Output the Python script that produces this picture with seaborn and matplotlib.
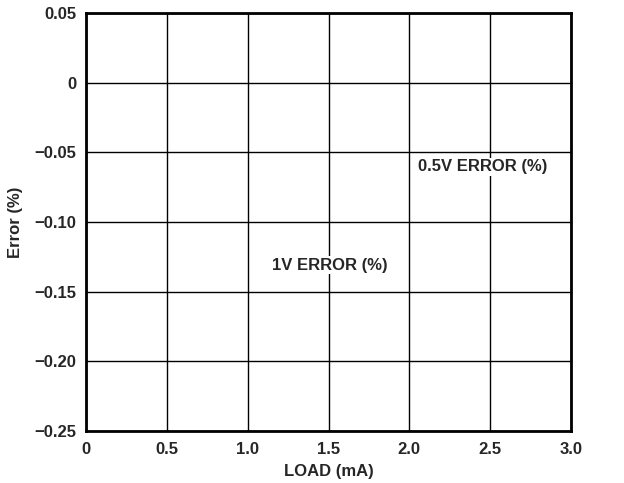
import matplotlib
matplotlib.use("Agg")
import matplotlib.pyplot as plt
import seaborn as sns

# Axis ticks
x_ticks = [0, 0.5, 1.0, 1.5, 2.0, 2.5, 3.0]
x_tick_labels = ["0", "0.5", "1.0", "1.5", "2.0", "2.5", "3.0"]
y_ticks = [0.05, 0, -0.05, -0.10, -0.15, -0.20, -0.25]
y_tick_labels = ["0.05", "0", "\u22120.05", "\u22120.10", "\u22120.15", "\u22120.20", "\u22120.25"]

# Annotations (label, x, y)
labels = ["0.5V ERROR (%)", "1V ERROR (%)"]
label_x = [2.456, 1.509]
label_y = [-0.0605, -0.131]

sns.set_style("white")
plt.rcParams["font.family"] = ["Liberation Sans", "DejaVu Sans"]

FS = 12

fig = plt.figure(figsize=(6.24, 4.83), dpi=100)
ax = fig.add_axes([86 / 624, 1 - 431 / 483, (571 - 86) / 624, (431 - 13) / 483])

ax.set_xlim(0, 3.0)
ax.set_ylim(-0.25, 0.05)
ax.set_xticks(x_ticks)
ax.set_xticklabels(x_tick_labels, fontsize=FS, fontweight="bold")
ax.set_yticks(y_ticks)
ax.set_yticklabels(y_tick_labels, fontsize=FS, fontweight="bold")
ax.tick_params(axis="x", length=0, pad=8)
ax.tick_params(axis="y", length=0, pad=7)

ax.grid(True, color="black", linewidth=1.0)
ax.set_axisbelow(True)
for s in ax.spines.values():
    s.set_visible(True)
    s.set_color("black")
    s.set_linewidth(2.0)

for t, x, y in zip(labels, label_x, label_y):
    ax.text(x, y, t, ha="center", va="center", fontsize=FS, fontweight="bold",
            bbox=dict(facecolor="white", edgecolor="none", pad=1.0), zorder=5)

ax.set_xlabel("LOAD (mA)", fontsize=FS, fontweight="bold", labelpad=5)
ax.set_ylabel("Error (%)", fontsize=FS, fontweight="bold", labelpad=8)

fig.savefig("out.png", dpi=100)
